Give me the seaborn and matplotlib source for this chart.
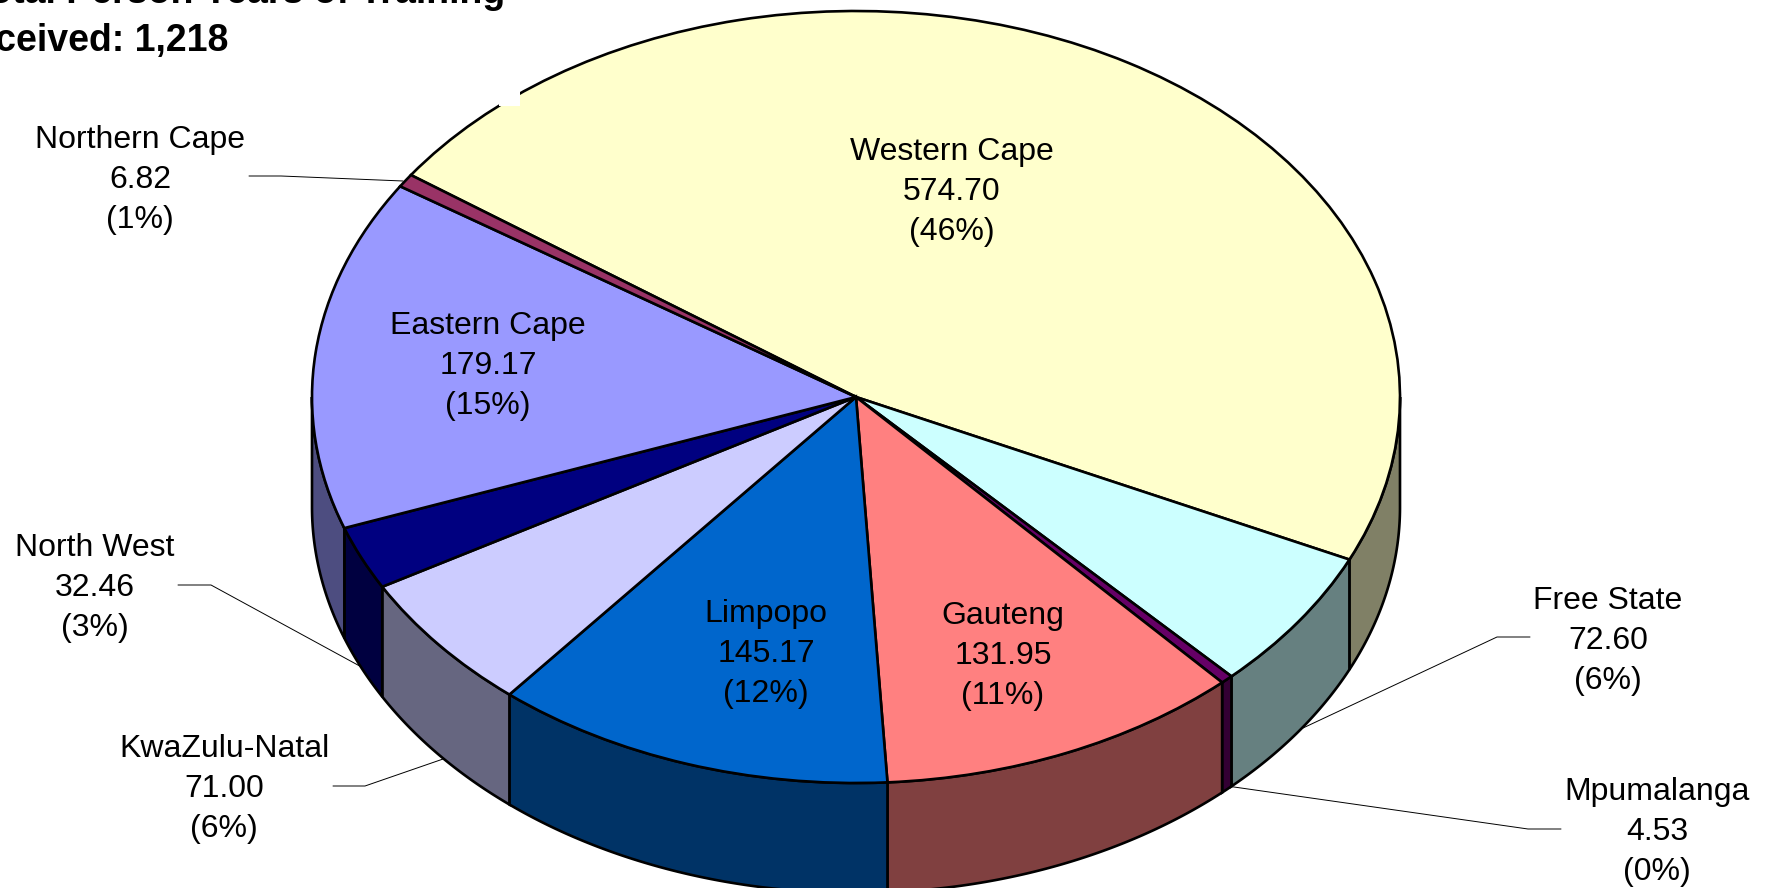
import numpy as np
import seaborn as sns
import matplotlib.pyplot as plt
from matplotlib.patches import Polygon, Rectangle

sns.set_theme(style="white")
plt.rcParams['font.family'] = ['Liberation Sans', 'DejaVu Sans']

regions = ['Western Cape', 'Free State', 'Mpumalanga', 'Gauteng', 'Limpopo',
           'KwaZulu-Natal', 'North West', 'Eastern Cape', 'Northern Cape']
person_years = [574.70, 72.60, 4.53, 131.95, 145.17, 71.00, 32.46, 179.17, 6.82]
shown_pct = [46, 6, 0, 11, 12, 6, 3, 15, 1]
hex_colors = ['#FFFFCC', '#CCFFFF', '#660066', '#FF8080', '#0066CC',
              '#CCCCFF', '#000080', '#9999FF', '#993366']

W, H = 1769, 888
CX, CY, RX, RY = 856, 397, 544, 386
DEPTH = 110 / RY


def xy(px, py):
    # picture pixels to pie units
    return (px - CX) / RX, (CY - py) / RY


fig, ax = plt.subplots(figsize=(W / 100, H / 100), dpi=100)
fig.subplots_adjust(0, 0, 1, 1)

palette = sns.color_palette(hex_colors)
wedges, _ = ax.pie(person_years, colors=palette, startangle=144.9, counterclock=False,
                   wedgeprops={'edgecolor': 'black', 'linewidth': 1.9, 'zorder': 3})
ax.set_aspect('auto')
ax.set_xlim(xy(0, 0)[0], xy(W, 0)[0])
ax.set_ylim(xy(0, H)[1], xy(0, 0)[1])

# side wall of the cake, only the part facing us
for wedge, col in zip(wedges, palette):
    lo, hi = max(wedge.theta1, -180), min(wedge.theta2, 0)
    if lo >= hi:
        continue
    t = np.radians(np.linspace(lo, hi, 120))
    top = np.column_stack([np.cos(t), np.sin(t)])
    bottom = (top - [0, DEPTH])[::-1]
    side = tuple(c * 0.5 for c in col)
    ax.add_patch(Polygon(np.vstack([top, bottom]), closed=True, facecolor=side,
                         edgecolor='black', linewidth=1.9, zorder=2))

# small white gap on the rim, as in the source image
x0, y0 = xy(499, 106)
x1, y1 = xy(520, 85)
ax.add_patch(Rectangle((x0, y0), x1 - x0, y1 - y0, facecolor='white',
                       edgecolor='none', zorder=4))

label_pos = {
    'Western Cape': (952, 192), 'Eastern Cape': (488, 366), 'Limpopo': (766, 654),
    'Gauteng': (1003, 656), 'Northern Cape': (140, 180), 'North West': (95, 588),
    'KwaZulu-Natal': (224, 789), 'Free State': (1608, 641), 'Mpumalanga': (1657, 832),
}
for name, val, pct in zip(regions, person_years, shown_pct):
    lx, ly = xy(*label_pos[name])
    ax.text(lx, ly, f"{name}\n{val:.2f}\n({pct}%)", ha='center', va='center',
            fontsize=23, linespacing=1.42, color='black', zorder=5)

leaders = [
    [(249, 176), (281, 176), (403, 181)],
    [(1530, 637), (1497, 637), (1303, 728)],
    [(1561, 829), (1528, 829), (1227, 786)],
    [(178, 585), (211, 585), (367, 670)],
    [(333, 786), (365, 786), (446, 758)],
]
for pts in leaders:
    lxs, lys = zip(*[xy(*p) for p in pts])
    ax.plot(lxs, lys, color='black', lw=0.7, zorder=1)

tx, ty = xy(505, 3)
ax.text(tx, ty, "Total Person Years of Training", ha='right', va='baseline',
        fontsize=27, fontweight='bold', color='black', clip_on=False)
tx, ty = xy(228, 51)
ax.text(tx, ty, "Total Received: 1,218", ha='right', va='baseline',
        fontsize=27, fontweight='bold', color='black', clip_on=False)

fig.savefig('out.png', dpi=100)
